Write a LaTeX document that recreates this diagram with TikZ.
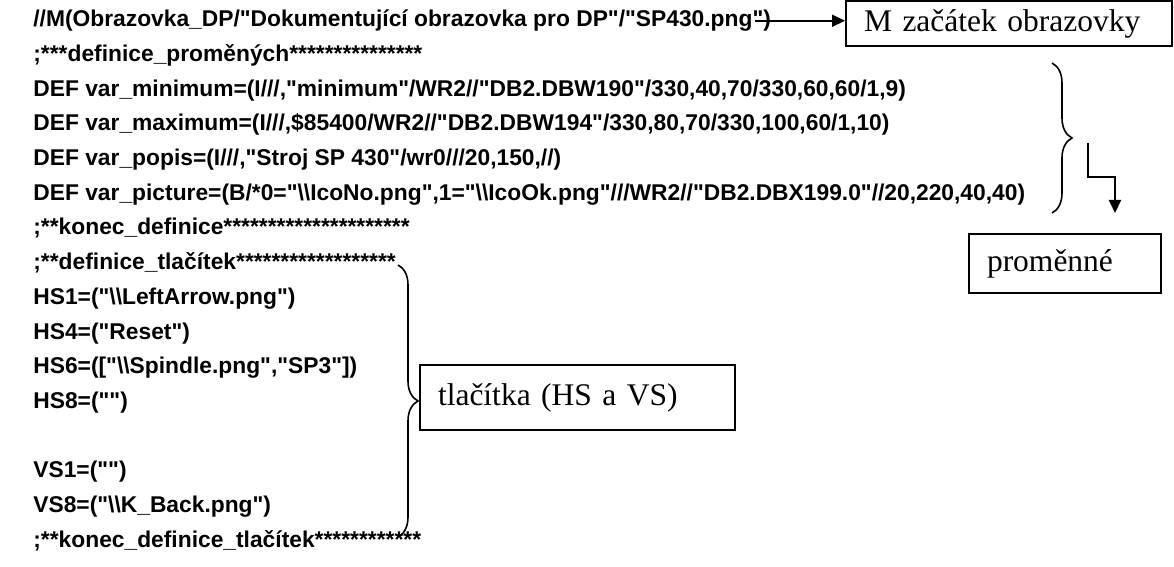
\documentclass[tikz,border=0pt]{standalone}
\usepackage{fontspec}
\setmainfont{Liberation Serif}
\newfontfamily\codefont[Ligatures=TeXOff]{Liberation Sans}
\usepackage{tikz}
\usetikzlibrary{arrows.meta, decorations.pathreplacing, positioning, calc}

\newcommand{\bsl}{\textbackslash\textbackslash}

\tikzset{
  code/.style={anchor=base west, inner sep=0pt, font=\codefont\bfseries\fontsize{11.4}{13}\selectfont},
  labelbox/.style={draw, line width=1pt, anchor=north west, inner xsep=9pt, inner ysep=0pt,
    align=left, font=\fontsize{15.75}{18}\selectfont},
  arr/.style={line width=1pt, -{Triangle[length=6.5pt, width=6pt]}},
  bracket/.style={decorate, decoration={brace, amplitude=10pt}, line width=0.8pt},
}

\begin{document}
\begin{tikzpicture}[x=0.5pt, y=-0.5pt]
    \useasboundingbox (0,0) rectangle (1174,567);

    % Code lines (baseline every 34.7)
    \node[code] (l0)  at (33,26.7)  {//M(Obrazovka\_DP/"Dokumentující obrazovka pro DP"/"SP430.png")};
    \node[code] (l1)  at (33,61.4)  {;***definice\_proměných***************};
    \node[code] (l2)  at (33,96.1)  {DEF var\_minimum=(I///,"minimum"/WR2//"DB2.DBW190"/330,40,70/330,60,60/1,9)};
    \node[code] (l3)  at (33,130.8) {DEF var\_maximum=(I///,\$85400/WR2//"DB2.DBW194"/330,80,70/330,100,60/1,10)};
    \node[code] (l4)  at (33,165.5) {DEF var\_popis=(I///,"Stroj SP 430"/wr0///20,150,//)};
    \node[code] (l5)  at (33,200.2) {DEF var\_picture=(B/*0="\bsl IcoNo.png",1="\bsl IcoOk.png"///WR2//"DB2.DBX199.0"//20,220,40,40)};
    \node[code] (l6)  at (33,234.9) {;**konec\_definice*********************};
    \node[code] (l7)  at (33,269.6) {;**definice\_tlačítek******************};
    \node[code] (l8)  at (33,304.3) {HS1=("\bsl LeftArrow.png")};
    \node[code] (l9)  at (33,339.0) {HS4=("Reset")};
    \node[code] (l10) at (33,373.7) {HS6=(["\bsl Spindle.png","SP3"])};
    \node[code] (l11) at (33,408.4) {HS8=("")};
    \node[code] (l13) at (33,477.8) {VS1=("")};
    \node[code] (l14) at (33,512.5) {VS8=("\bsl K\_Back.png")};
    \node[code] (l15) at (33,547.2) {;**konec\_definice\_tlačítek************};

    % Label boxes
    \node[labelbox, text width=145pt, minimum height=22.5pt] (mbox) at (845,0) {M začátek obrazovky};
    \node[labelbox, text width=78pt, minimum height=29.5pt] (prom) at (968,233) {proměnné};
    \node[labelbox, text width=139.5pt, minimum height=32.5pt] (tlac) at (419,364) {tlačítka (HS a VS)};

    % Braces
    \draw[bracket] (1052,63) -- (1052,213);
    \draw[bracket] (398,265) -- (398,537);

    % Arrows
    \draw[arr] ([xshift=-8pt]l0.east) -- (l0.east -| mbox.west);
    \coordinate (vout) at (1088,143);
    \coordinate (vend) at (1115,213);
    \draw[arr] (vout) -- ++(0,34) -| (vend);
\end{tikzpicture}
\end{document}
